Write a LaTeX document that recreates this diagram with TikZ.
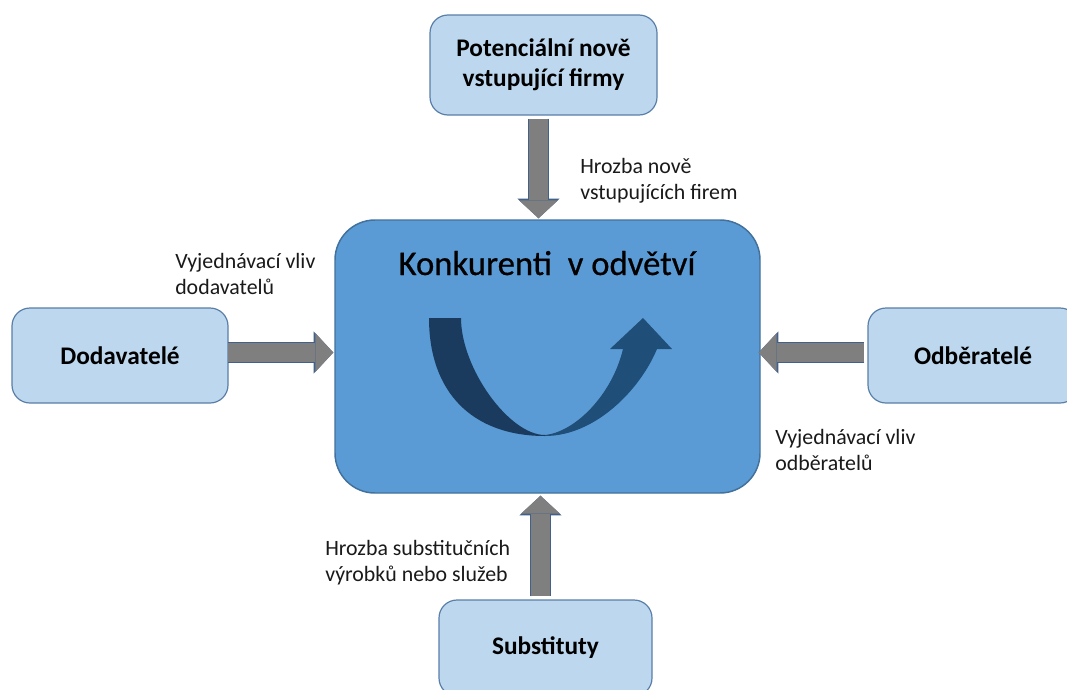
\documentclass[tikz,border=0pt]{standalone}
\usepackage{fontspec}
\setmainfont{Carlito}
\newfontfamily\titlefont[FakeBold=0.6]{Carlito}
\usetikzlibrary{arrows.meta,calc}
\definecolor{boxfill}{HTML}{BDD7EE}
\definecolor{boxline}{HTML}{5A7FA8}
\definecolor{corefill}{HTML}{5B9BD5}
\definecolor{coreline}{HTML}{41719C}
\definecolor{arrfill}{HTML}{7F7F7F}
\definecolor{arrline}{HTML}{41608A}
\definecolor{curvedark}{HTML}{1B3B5E}
\definecolor{curvelight}{HTML}{1F4E79}
\definecolor{labeltext}{HTML}{1A1A1A}
\tikzset{
  sidebox/.style={draw=boxline, fill=boxfill, line width=0.9pt, rounded corners=13.5pt,
    inner sep=0pt, align=center, font=\fontsize{19}{22.5}\selectfont\bfseries},
  corebox/.style={draw=coreline, fill=corefill, line width=1.1pt, rounded corners=30pt,
    inner sep=0pt, minimum width=318.75pt, minimum height=204.75pt},
  lbl/.style={inner sep=0pt, text=labeltext, font=\fontsize{16.4}{19.5}\selectfont, anchor=base west},
  garrow/.style={draw=arrfill, line width=14.25pt,
    -{Triangle[width=29.25pt,length=13.5pt,line width=0pt]},
    preaction={draw=arrline, line width=15.9pt,
      -{Triangle[width=31.6pt,length=14.7pt,line width=0pt]}}}
}
\begin{document}
\begin{tikzpicture}[x=0.75pt,y=-0.75pt]
\clip (0,0) rectangle (1067,689);
\fill[white] (0,0) rectangle (1067,689);

% boxes
\node[corebox] (core) at (547.5,356.5) {};
\node[sidebox, minimum width=170.25pt, minimum height=75pt] (top) at (543.5,65) {Potenciální nově\\vstupující firmy};
\node[sidebox, minimum width=162pt, minimum height=71.25pt] (dod) at (120,355.5) {Dodavatelé};
\node[sidebox, minimum width=157.5pt, minimum height=71.25pt] (odb) at (973,355.5) {Odběratelé};
\node[sidebox, minimum width=159.75pt, minimum height=72pt] (sub) at (545.5,648) {Substituty};

% title
\node[inner sep=0pt, anchor=base, font=\titlefont\fontsize{26}{30}\selectfont] (title) at (547,275) {Konkurenti\ \ v odvětví};

% curved arrow inside the core box
\fill[curvedark] (429,318) .. controls (429,392) and (472,436) .. (545,436)
  -- (545,435) .. controls (509,435) and (461,368) .. (461,318) -- cycle;
\fill[curvelight] (545,436) .. controls (595,436) and (640,390) .. (657,349)
  -- (672,349) -- (643,318) -- (610,349) -- (623,349)
  .. controls (612,395) and (575,432) .. (545,435) -- cycle;

% block arrows
\draw[garrow] ($(top.south)+(-5,3)$) -- ($(top.south |- core.north)+(-5,-1)$);
\draw[garrow] ($(dod.east)+(-1,-3)$) -- ($(dod.east -| core.west)+(-1,-3)$);
\draw[garrow] ($(odb.west)+(-3,-3)$) -- ($(odb.west -| core.east)+(-2,-3)$);
\draw[garrow] ($(sub.north)+(-5,-3)$) -- ($(sub.north |- core.south)+(-5,2)$);

% labels
\node[lbl] (ltop) at (580,173) {\begin{tabular}[t]{@{}l@{}}Hrozba nově\\vstupujících firem\end{tabular}};
\node[lbl] (lleft) at (175,268) {\begin{tabular}[t]{@{}l@{}}Vyjednávací vliv\\dodavatelů\end{tabular}};
\node[lbl] (lright) at (775,444) {\begin{tabular}[t]{@{}l@{}}Vyjednávací vliv\\odběratelů\end{tabular}};
\node[lbl] (lbot) at (325,555) {\begin{tabular}[t]{@{}l@{}}Hrozba substitučních\\výrobků nebo služeb\end{tabular}};
\end{tikzpicture}
\end{document}
